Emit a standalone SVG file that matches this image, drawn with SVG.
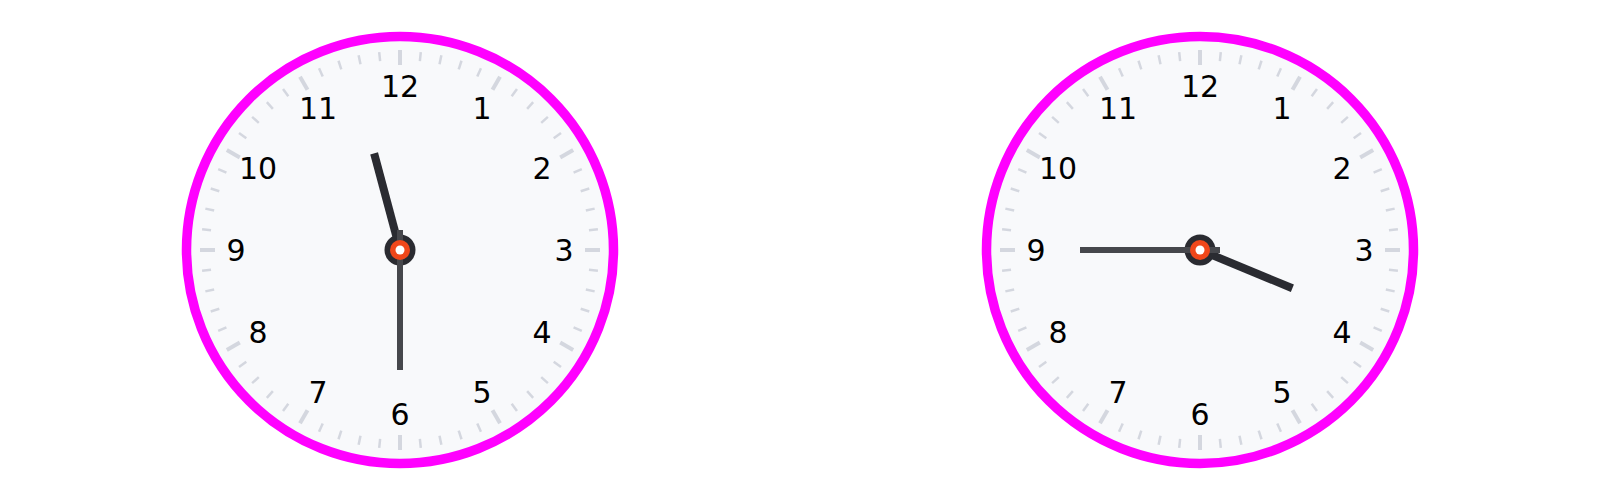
<svg xmlns="http://www.w3.org/2000/svg" xmlns:xlink="http://www.w3.org/1999/xlink" width="1600" height="500" viewBox="0 0 1600 500">
<style>
.face{fill:#f8f9fb;stroke:#ff00ff;stroke-width:9.5}
.mtick{stroke:#d4d7df;stroke-width:2.5}
.htick{stroke:#d4d7df;stroke-width:4}
.num{font-family:"DejaVu Sans",sans-serif;font-size:30px;fill:#000;text-anchor:middle}
.hour{stroke:#2a2b31;stroke-width:8}
.minute{stroke:#46474c;stroke-width:6}
.hub{fill:#2a2b31}
.hub2{fill:#f0471a}
.hub3{fill:#ffffff}
</style>
<defs>
<line id="mt" x1="0" y1="-199" x2="0" y2="-190" class="mtick"/>
<line id="ht" x1="0" y1="-200" x2="0" y2="-185" class="htick"/>
<g id="ticks">
<use xlink:href="#ht" href="#ht"/>
<use xlink:href="#mt" href="#mt" transform="rotate(6)"/>
<use xlink:href="#mt" href="#mt" transform="rotate(12)"/>
<use xlink:href="#mt" href="#mt" transform="rotate(18)"/>
<use xlink:href="#mt" href="#mt" transform="rotate(24)"/>
<use xlink:href="#ht" href="#ht" transform="rotate(30)"/>
<use xlink:href="#mt" href="#mt" transform="rotate(36)"/>
<use xlink:href="#mt" href="#mt" transform="rotate(42)"/>
<use xlink:href="#mt" href="#mt" transform="rotate(48)"/>
<use xlink:href="#mt" href="#mt" transform="rotate(54)"/>
<use xlink:href="#ht" href="#ht" transform="rotate(60)"/>
<use xlink:href="#mt" href="#mt" transform="rotate(66)"/>
<use xlink:href="#mt" href="#mt" transform="rotate(72)"/>
<use xlink:href="#mt" href="#mt" transform="rotate(78)"/>
<use xlink:href="#mt" href="#mt" transform="rotate(84)"/>
<use xlink:href="#ht" href="#ht" transform="rotate(90)"/>
<use xlink:href="#mt" href="#mt" transform="rotate(96)"/>
<use xlink:href="#mt" href="#mt" transform="rotate(102)"/>
<use xlink:href="#mt" href="#mt" transform="rotate(108)"/>
<use xlink:href="#mt" href="#mt" transform="rotate(114)"/>
<use xlink:href="#ht" href="#ht" transform="rotate(120)"/>
<use xlink:href="#mt" href="#mt" transform="rotate(126)"/>
<use xlink:href="#mt" href="#mt" transform="rotate(132)"/>
<use xlink:href="#mt" href="#mt" transform="rotate(138)"/>
<use xlink:href="#mt" href="#mt" transform="rotate(144)"/>
<use xlink:href="#ht" href="#ht" transform="rotate(150)"/>
<use xlink:href="#mt" href="#mt" transform="rotate(156)"/>
<use xlink:href="#mt" href="#mt" transform="rotate(162)"/>
<use xlink:href="#mt" href="#mt" transform="rotate(168)"/>
<use xlink:href="#mt" href="#mt" transform="rotate(174)"/>
<use xlink:href="#ht" href="#ht" transform="rotate(180)"/>
<use xlink:href="#mt" href="#mt" transform="rotate(186)"/>
<use xlink:href="#mt" href="#mt" transform="rotate(192)"/>
<use xlink:href="#mt" href="#mt" transform="rotate(198)"/>
<use xlink:href="#mt" href="#mt" transform="rotate(204)"/>
<use xlink:href="#ht" href="#ht" transform="rotate(210)"/>
<use xlink:href="#mt" href="#mt" transform="rotate(216)"/>
<use xlink:href="#mt" href="#mt" transform="rotate(222)"/>
<use xlink:href="#mt" href="#mt" transform="rotate(228)"/>
<use xlink:href="#mt" href="#mt" transform="rotate(234)"/>
<use xlink:href="#ht" href="#ht" transform="rotate(240)"/>
<use xlink:href="#mt" href="#mt" transform="rotate(246)"/>
<use xlink:href="#mt" href="#mt" transform="rotate(252)"/>
<use xlink:href="#mt" href="#mt" transform="rotate(258)"/>
<use xlink:href="#mt" href="#mt" transform="rotate(264)"/>
<use xlink:href="#ht" href="#ht" transform="rotate(270)"/>
<use xlink:href="#mt" href="#mt" transform="rotate(276)"/>
<use xlink:href="#mt" href="#mt" transform="rotate(282)"/>
<use xlink:href="#mt" href="#mt" transform="rotate(288)"/>
<use xlink:href="#mt" href="#mt" transform="rotate(294)"/>
<use xlink:href="#ht" href="#ht" transform="rotate(300)"/>
<use xlink:href="#mt" href="#mt" transform="rotate(306)"/>
<use xlink:href="#mt" href="#mt" transform="rotate(312)"/>
<use xlink:href="#mt" href="#mt" transform="rotate(318)"/>
<use xlink:href="#mt" href="#mt" transform="rotate(324)"/>
<use xlink:href="#ht" href="#ht" transform="rotate(330)"/>
<use xlink:href="#mt" href="#mt" transform="rotate(336)"/>
<use xlink:href="#mt" href="#mt" transform="rotate(342)"/>
<use xlink:href="#mt" href="#mt" transform="rotate(348)"/>
<use xlink:href="#mt" href="#mt" transform="rotate(354)"/>
</g>
<g id="dial">
<circle r="213.5" class="face"/>
<use xlink:href="#ticks" href="#ticks"/>
<text class="num" x="0" y="-153">12</text>
<text class="num" x="82" y="-131">1</text>
<text class="num" x="142" y="-71">2</text>
<text class="num" x="164" y="11">3</text>
<text class="num" x="142" y="93">4</text>
<text class="num" x="82" y="153">5</text>
<text class="num" x="0" y="175">6</text>
<text class="num" x="-82" y="153">7</text>
<text class="num" x="-142" y="93">8</text>
<text class="num" x="-164" y="11">9</text>
<text class="num" x="-142" y="-71">10</text>
<text class="num" x="-82" y="-131">11</text>
</g>
</defs>
<rect width="1600" height="500" fill="#ffffff"/>
<g id="clock-left" transform="translate(400,250)">
<use xlink:href="#dial" href="#dial"/>
<circle r="15.5" class="hub"/>
<line x1="0" y1="0" x2="0" y2="-100" class="hour" transform="rotate(345)"/>
<line x1="0" y1="-20" x2="0" y2="120" class="minute"/>
<circle r="10" class="hub2"/>
<circle r="4.5" class="hub3"/>
</g>
<g id="clock-right" transform="translate(1200,250)">
<use xlink:href="#dial" href="#dial"/>
<circle r="15.5" class="hub"/>
<line x1="0" y1="0" x2="0" y2="-100" class="hour" transform="rotate(112.5)"/>
<line x1="20" y1="0" x2="-120" y2="0" class="minute"/>
<circle r="10" class="hub2"/>
<circle r="4.5" class="hub3"/>
</g>
</svg>
